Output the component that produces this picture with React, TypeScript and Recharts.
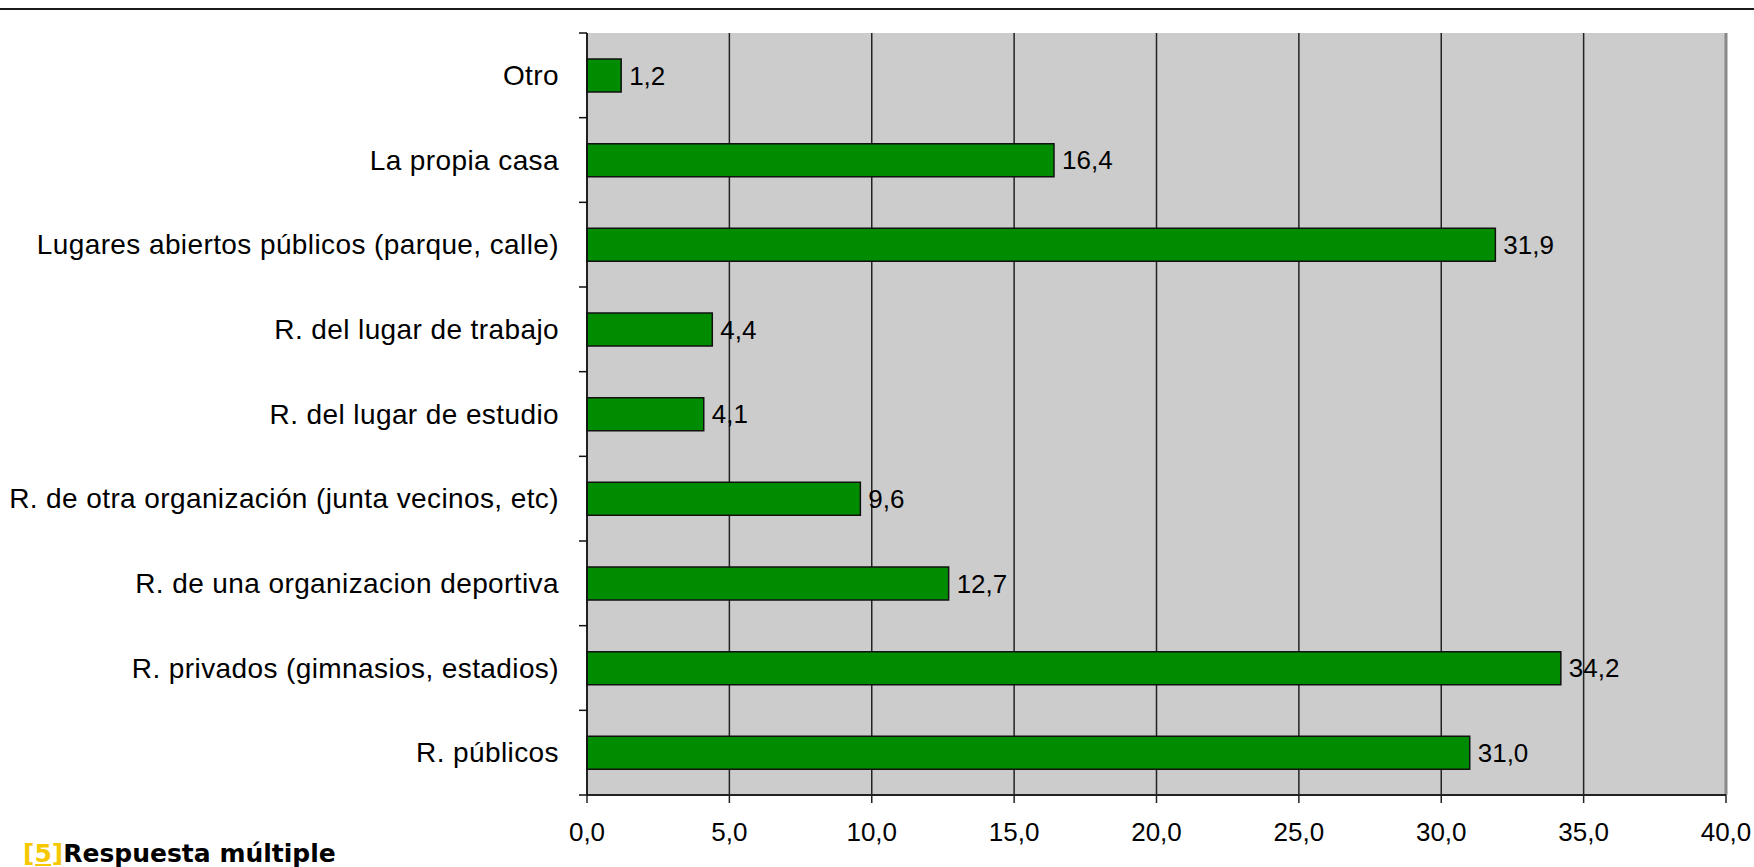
import { Bar, BarChart, CartesianGrid, LabelList, ReferenceLine, XAxis, YAxis } from 'recharts'

const categories = [
  'Otro',
  'La propia casa',
  'Lugares abiertos públicos (parque, calle)',
  'R. del lugar de trabajo',
  'R. del lugar de estudio',
  'R. de otra organización (junta vecinos, etc)',
  'R. de una organizacion deportiva',
  'R. privados (gimnasios, estadios)',
  'R. públicos',
]

const percentages = [1.2, 16.4, 31.9, 4.4, 4.1, 9.6, 12.7, 34.2, 31.0]

const xTicks = [0, 5, 10, 15, 20, 25, 30, 35, 40]

const WIDTH = 1754
const HEIGHT = 867
const PLOT_TOP = 33
const PLOT_BOTTOM = 795
const Y_AXIS_WIDTH = 587
const LABEL_GAP = 28
const BAND = (PLOT_BOTTOM - PLOT_TOP) / categories.length
const FONT = '"Liberation Sans", Arial, sans-serif'

const chartData = categories.map((name, i) => ({ name, value: percentages[i] }))

const formatComma = (v: number) => Number(v).toFixed(1).replace('.', ',')

function CategoryTick(props: any) {
  const { x, y, payload, index } = props
  const axisX = x + LABEL_GAP
  return (
    <g>
      <line x1={axisX - 8} x2={axisX} y1={y - BAND / 2} y2={y - BAND / 2} stroke="#111" strokeWidth={1.5} />
      {index === categories.length - 1 && (
        <line x1={axisX - 8} x2={axisX} y1={y + BAND / 2} y2={y + BAND / 2} stroke="#111" strokeWidth={1.5} />
      )}
      <text
        x={x}
        y={y}
        dy="0.35em"
        textAnchor="end"
        fontSize={28}
        letterSpacing={0.4}
        fill="#000"
        fontFamily={FONT}
      >
        {payload.value}
      </text>
    </g>
  )
}

export default function App() {
  return (
    <div
      style={{
        position: 'absolute',
        left: 0,
        top: 0,
        width: WIDTH,
        height: HEIGHT,
        background: '#fff',
        overflow: 'hidden',
      }}
    >
      <div
        style={{
          position: 'absolute',
          left: 0,
          top: 8,
          width: WIDTH,
          height: 2,
          background: '#1a1a1a',
        }}
      />
      <BarChart
        width={WIDTH}
        height={HEIGHT}
        layout="vertical"
        data={chartData}
        margin={{ top: PLOT_TOP, right: 28, left: 0, bottom: HEIGHT - PLOT_BOTTOM - 60 }}
      >
        <CartesianGrid fill="#cccccc" horizontal={false} stroke="#222" strokeWidth={1.5} />
        <XAxis
          type="number"
          domain={[0, 40]}
          ticks={xTicks}
          interval={0}
          height={60}
          tickFormatter={formatComma}
          tick={{ fontSize: 26, fill: '#000', fontFamily: FONT }}
          axisLine={{ stroke: '#222', strokeWidth: 2 }}
          tickLine={{ stroke: '#222', strokeWidth: 1.5 }}
          tickSize={8}
          tickMargin={20}
        />
        <YAxis
          type="category"
          dataKey="name"
          width={Y_AXIS_WIDTH}
          interval={0}
          tickSize={0}
          tickMargin={LABEL_GAP}
          tick={<CategoryTick />}
          axisLine={{ stroke: '#111', strokeWidth: 1.5 }}
          tickLine={false}
        />
        <ReferenceLine x={40} stroke="#8a8a8a" strokeWidth={3} />
        <Bar
          dataKey="value"
          fill="#008c00"
          stroke="#111"
          strokeWidth={1.5}
          barSize={33}
          isAnimationActive={false}
        >
          <LabelList
            dataKey="value"
            position="right"
            offset={8}
            formatter={(v: any) => formatComma(v)}
            style={{ fontSize: 26, fill: '#000', fontFamily: FONT }}
          />
        </Bar>
      </BarChart>
      <div
        style={{
          position: 'absolute',
          left: 23,
          top: 841,
          fontFamily: '"DejaVu Sans", Verdana, sans-serif',
          fontWeight: 'bold',
          fontSize: 25,
          lineHeight: '25px',
          color: '#000',
          whiteSpace: 'nowrap',
        }}
      >
        <span style={{ color: '#f5c800', textDecoration: 'underline' }}>[5]</span>
        Respuesta múltiple
      </div>
    </div>
  )
}
